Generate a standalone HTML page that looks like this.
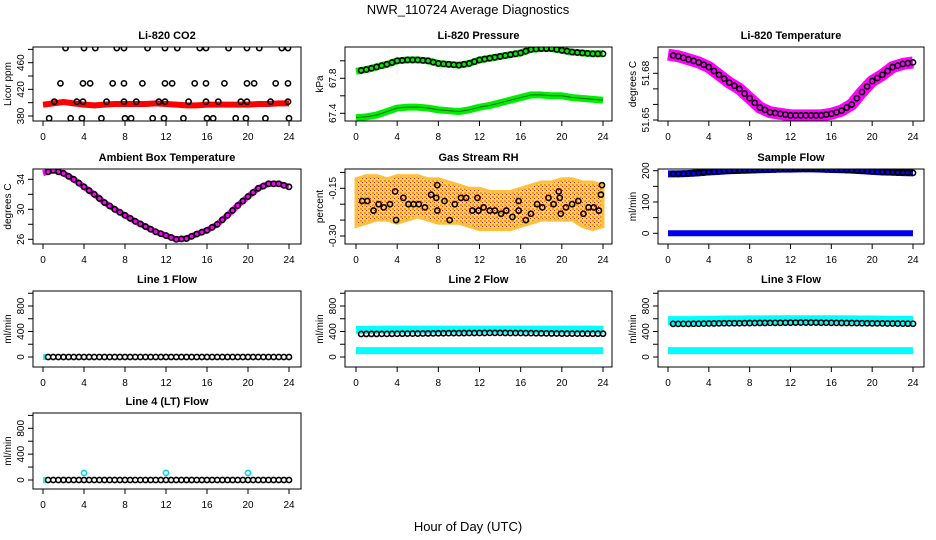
<!DOCTYPE html>
<html><head><meta charset="utf-8">
<style>
html,body{margin:0;padding:0;background:#fff;}
svg{display:block;font-family:"Liberation Sans",Arial,sans-serif;}
</style></head>
<body>
<svg id="c" width="936" height="540" viewBox="0 0 936 540" xmlns="http://www.w3.org/2000/svg">
<defs>
<pattern id="rhpat" width="4" height="4" patternUnits="userSpaceOnUse">
<rect width="4" height="4" fill="#ffd27a"/>
<rect x="0" y="0" width="2" height="2" fill="#ff9a00"/>
<rect x="2" y="2" width="1" height="1" fill="#e02000"/>
</pattern>
</defs>
<text x="468" y="14" text-anchor="middle" font-size="13">NWR_110724  Average Diagnostics</text>
<text x="468" y="531" text-anchor="middle" font-size="13">Hour of Day (UTC)</text>
</svg>
<script>
// ---- data ----
const hours = [0,1,2,3,4,5,6,7,8,9,10,11,12,13,14,15,16,17,18,19,20,21,22,23,24];
const xTicks = [0,4,8,12,16,20,24];

const co2Band = [397,399,401,399,397,396,397,398,398,398,398,399,398,397,396,396,397,397,397,397,397,398,398,399,399];
const co2Hi_x = [2.2,4.0,5.1,7.2,7.9,10.2,11.9,13.1,15.3,15.9,18.1,19.9,21.1,23.3,23.9];
const co2Mid_x = [1.7,3.9,4.6,6.8,7.9,9.7,11.9,12.6,14.8,15.9,17.7,19.9,20.6,22.7,23.9];
const co2Ref_x = [1.1,3.3,3.9,6.2,7.9,9.1,11.3,11.9,14.2,15.9,17.1,19.3,19.9,22.2,23.9];
const co2Lo_x = [0.6,2.7,3.8,5.7,8.0,8.6,10.7,11.8,13.7,16.0,16.6,18.8,19.8,21.7,24.0];
const co2Levels = [482,429,401.5,376.5];

const pressUpper = [67.88,67.9,67.93,67.96,68.0,68.01,68.01,68.0,67.97,67.96,67.95,67.97,68.01,68.03,68.05,68.07,68.09,68.13,68.14,68.14,68.12,68.1,68.09,68.08,68.08];
const pressLower = [67.35,67.36,67.38,67.42,67.46,67.47,67.47,67.46,67.44,67.43,67.42,67.44,67.47,67.49,67.52,67.55,67.58,67.61,67.61,67.6,67.6,67.58,67.57,67.56,67.55];

const tempLi = [51.692,51.691,51.689,51.687,51.684,51.679,51.674,51.67,51.664,51.658,51.655,51.654,51.653,51.653,51.653,51.653,51.654,51.656,51.66,51.668,51.675,51.679,51.684,51.686,51.687];

const ambient = [34.8,35.2,34.8,34.0,33.0,32.0,30.9,30.0,29.2,28.4,27.7,27.0,26.5,26.0,26.1,26.7,27.2,28.0,29.2,30.5,31.7,32.8,33.4,33.4,33.0];

const rhBandHi = [-0.12,-0.11,-0.11,-0.12,-0.11,-0.11,-0.11,-0.12,-0.12,-0.13,-0.14,-0.15,-0.15,-0.16,-0.16,-0.16,-0.15,-0.14,-0.13,-0.13,-0.12,-0.12,-0.13,-0.13,-0.14];
const rhBandLo = [-0.27,-0.26,-0.25,-0.25,-0.26,-0.25,-0.24,-0.25,-0.26,-0.26,-0.26,-0.27,-0.28,-0.28,-0.28,-0.28,-0.27,-0.26,-0.25,-0.25,-0.25,-0.25,-0.27,-0.28,-0.27];
const rhX = [0.6,1.1,1.7,2.2,2.7,3.3,3.8,3.9,4.6,5.1,5.6,6.1,6.7,7.3,7.8,7.9,7.9,8.6,9.1,9.6,10.2,10.7,11.3,11.8,11.9,12.4,13,13.5,14.1,14.6,15.2,15.8,15.8,16.5,17,17.6,18.1,18.7,19.2,19.7,19.8,19.9,20.4,21,21.6,22.1,22.6,23.1,23.6,23.8,23.9];
const rhY = [-0.19,-0.19,-0.22,-0.2,-0.21,-0.2,-0.16,-0.25,-0.18,-0.2,-0.2,-0.2,-0.21,-0.17,-0.18,-0.14,-0.22,-0.19,-0.25,-0.2,-0.18,-0.18,-0.22,-0.18,-0.22,-0.21,-0.22,-0.22,-0.23,-0.22,-0.24,-0.19,-0.22,-0.25,-0.23,-0.2,-0.21,-0.18,-0.2,-0.16,-0.18,-0.23,-0.21,-0.2,-0.19,-0.23,-0.21,-0.21,-0.22,-0.17,-0.14];

const sampleFlow = [190,190,191,193,196,198,200,201,202,203,204,205,205,206,206,205,204,203,202,200,198,196,195,194,193];
const sampleZero = [0,0,0,0,0,0,0,0,0,0,0,0,0,0,0,0,0,0,0,0,0,0,0,0,0];

const line1Flow = [0,0,0,0,0,0,0,0,0,0,0,0,0,0,0,0,0,0,0,0,0,0,0,0,0];
const line2Upper = [425,425,428,430,430,430,430,430,430,430,430,430,430,430,430,430,430,430,430,430,430,430,430,430,428];
const line2Black = [360,362,362,363,365,367,368,370,372,374,375,376,377,378,378,377,376,374,372,370,368,367,366,366,366];
const line2Lower = [100,100,100,100,100,100,100,100,100,100,100,100,100,100,100,100,100,100,100,100,100,100,100,100,100];
const line3Upper = [570,570,570,572,575,578,580,580,582,582,585,585,585,585,585,585,585,585,582,580,580,578,575,575,575];
const line3Black = [520,520,520,522,525,528,530,530,532,534,535,536,538,540,540,538,536,534,532,530,528,527,525,524,522];
const line3Lower = [100,100,100,100,100,100,100,100,100,100,100,100,100,100,100,100,100,100,100,100,100,100,100,100,100];
const line4Flow = [0,0,0,0,0,0,0,0,0,0,0,0,0,0,0,0,0,0,0,0,0,0,0,0,0];
const line4SpikeX = [4,12,20];
const line4SpikeY = [110,110,110];

// ---- layout ----
const NS = "http://www.w3.org/2000/svg";
const svg = document.getElementById('c');
const colL = [33,345,658], colR = [301,612,924], x0p = [43,356,668], x24p = [289,603,913];
const rowT = [47,169,291,413], rowB = [121,244,367,489];

function mk(tag, attrs, parent){
  const e = document.createElementNS(NS, tag);
  for (const k in attrs) e.setAttribute(k, attrs[k]);
  (parent||svg).appendChild(e);
  return e;
}

function panel(col,row,key,title,ylab,v1,p1,v2,p2,ticks,labels){
  const g = mk('g',{});
  
  
  const L=colL[col], R=colR[col], T=rowT[row], B=rowB[row];
  const sx = h => x0p[col] + (x24p[col]-x0p[col])*h/24;
  const sy = v => p1 + (p2-p1)*(v-v1)/(v2-v1);
  const t = mk('text',{x:(L+R)/2,y:T-8,'text-anchor':'middle','font-size':'11','font-weight':'bold'},g);
  t.textContent = title;
  
  
  const yl = mk('text',{x:0,y:0,'text-anchor':'middle','font-size':'10',transform:`translate(${L-22},${(T+B)/2}) rotate(-90)`},g);
  yl.textContent = ylab;
  
  
  const xa = mk('g',{},g);
  
  
  mk('line',{x1:sx(0),x2:sx(24),y1:B,y2:B,stroke:'#000'},xa);
  xTicks.forEach(h=>{
    mk('line',{x1:sx(h),x2:sx(h),y1:B,y2:B+5,stroke:'#000'},xa);
    const tx = mk('text',{x:sx(h),y:B+19,'text-anchor':'middle','font-size':'10'},xa);
    tx.textContent = h;
  });
  const ya = mk('g',{},g);
  
  
  mk('line',{x1:L,x2:L,y1:sy(ticks[0]),y2:sy(ticks[ticks.length-1]),stroke:'#000'},ya);
  ticks.forEach((v,i)=>{
    mk('line',{x1:L-5,x2:L,y1:sy(v),y2:sy(v),stroke:'#000'},ya);
    if (labels[i]) {
      const ty = mk('text',{x:0,y:0,'text-anchor':'middle','font-size':'10',transform:`translate(${L-9},${sy(v)}) rotate(-90)`},ya);
      ty.textContent = labels[i];
    }
  });
  const clip = 'clip-'+key;
  const cp = mk('clipPath',{id:clip},g);
  mk('rect',{x:L,y:T,width:R-L,height:B-T},cp);
  const plot = mk('g',{'clip-path':`url(#${clip})`},g);
  mk('rect',{x:L,y:T,width:R-L,height:B-T,fill:'none',stroke:'#000'},g);
  return {sx,sy,plot};
}

function band(p,xs,ys,color,w,name){
  const pts = xs.map((h,i)=>p.sx(h)+','+p.sy(ys[i])).join(' ');
  const e = mk('polyline',{points:pts,fill:'none',stroke:color,'stroke-width':w,'stroke-linejoin':'round','stroke-linecap':'butt'},p.plot);
  
  
}
function circles(p,xs,ys,color,name){
  const g = mk('g',{},p.plot);
  
  
  xs.forEach((h,i)=>{
    mk('circle',{cx:p.sx(h),cy:p.sy(ys[i]),r:2.6,fill:'none',stroke:color,'stroke-width':1.6},g);
  });
}
function halfCircles(p,xs,ys,color,name){
  const g = mk('g',{},p.plot);
  
  
  xs.forEach((h,i)=>{
    if (h===0) return;
    mk('circle',{cx:p.sx(h),cy:p.sy(ys[i]),r:2.6,fill:'none',stroke:color,'stroke-width':1.6},g);
    mk('circle',{cx:p.sx(h-0.5),cy:p.sy((ys[i]+ys[i-1])/2),r:2.6,fill:'none',stroke:color,'stroke-width':1.6},g);
  });
}

// CO2
let p = panel(0,0,'co2','Li-820 CO2','Licor ppm',380,116,460,62.7,[380,400,420,440,460,480],['380','','420','','460','']);
band(p,hours,co2Band,'#ff0000',6,'co2-series');
circles(p,co2Hi_x,co2Hi_x.map(()=>co2Levels[0]),'#000','co2-ref-high');
circles(p,co2Mid_x,co2Mid_x.map(()=>co2Levels[1]),'#000','co2-ref-mid');
circles(p,co2Ref_x,co2Ref_x.map(()=>co2Levels[2]),'#000','co2-ref-avg');
circles(p,co2Lo_x,co2Lo_x.map(()=>co2Levels[3]),'#000','co2-ref-low');

// Pressure
p = panel(1,0,'pressure','Li-820 Pressure','kPa',67.4,113.3,67.8,78.3,[67.4,67.6,67.8,68.0],['67.4','','67.8','']);
band(p,hours,pressUpper,'#00ee00',7,'pressure-upper-series');
band(p,hours,pressLower,'#00ee00',7,'pressure-lower-series');
band(p,hours,pressLower,'#006600',1,'pressure-lower-core');
halfCircles(p,hours,pressUpper,'#000','pressure-avg-points');

// Li temp
p = panel(2,0,'li-temp','Li-820 Temperature','degrees C',51.65,120,51.68,73.3,[51.65,51.66,51.67,51.68,51.69],['51.65','','','51.68','']);
band(p,hours,tempLi,'#ff00ff',12,'li-temp-series');
halfCircles(p,hours,tempLi,'#000','li-temp-avg-points');

// Ambient
p = panel(0,1,'ambient','Ambient Box Temperature','degrees C',26,239.3,34,179.3,[26,28,30,32,34],['26','','30','','34']);
band(p,hours,ambient,'#ff00ff',6,'ambient-series');
halfCircles(p,hours,ambient,'#000','ambient-avg-points');

// RH
p = panel(1,1,'rh','Gas Stream RH','percent',-0.30,236,-0.15,188.3,[-0.30,-0.25,-0.20,-0.15,-0.10],['-0.30','','','-0.15','']);
{
  const up = hours.map((h,i)=>p.sx(h)+','+p.sy(rhBandHi[i]));
  const dn = hours.map((h,i)=>p.sx(h)+','+p.sy(rhBandLo[i])).reverse();
  const poly = mk('polygon',{points:up.concat(dn).join(' '),fill:'url(#rhpat)',stroke:'#ffc040','stroke-width':3},p.plot);
  
  
}
circles(p,rhX,rhY,'#000','rh-avg-points');

// Sample flow
p = panel(2,1,'sample-flow','Sample Flow','ml/min',0,233.3,200,170.7,[0,50,100,150,200],['0','','100','','200']);
band(p,hours,sampleFlow,'#0000ee',7,'sample-flow-series');
band(p,hours,sampleZero,'#0000ee',6,'sample-flow-zero-series');
halfCircles(p,hours,sampleFlow,'#000','sample-flow-avg-points');

// Line flows
const ft=[0,200,400,600,800,1000], fl=['0','','400','','800',''];
p = panel(0,2,'line1','Line 1 Flow','ml/min',0,357,800,306,ft,fl);
band(p,[0,0.3],[0,0],'#00ffff',6,'line1-series');
halfCircles(p,hours,line1Flow,'#000','line1-avg-points');

p = panel(1,2,'line2','Line 2 Flow','ml/min',0,357,800,306,ft,fl);
band(p,hours,line2Upper,'#00ffff',8,'line2-upper-series');
band(p,hours,line2Lower,'#00ffff',7,'line2-lower-series');
halfCircles(p,hours,line2Black,'#000','line2-avg-points');

p = panel(2,2,'line3','Line 3 Flow','ml/min',0,357,800,306,ft,fl);
band(p,hours,line3Upper,'#00ffff',9,'line3-upper-series');
band(p,hours,line3Lower,'#00ffff',7,'line3-lower-series');
halfCircles(p,hours,line3Black,'#000','line3-avg-points');

p = panel(0,3,'line4','Line 4 (LT) Flow','ml/min',0,480,800,428.3,ft,fl);
band(p,[0,0.3],[0,0],'#00ffff',6,'line4-series');
circles(p,line4SpikeX,line4SpikeY,'#00dddd','line4-spike-points');
halfCircles(p,hours,line4Flow,'#000','line4-avg-points');
</script>
</body></html>
